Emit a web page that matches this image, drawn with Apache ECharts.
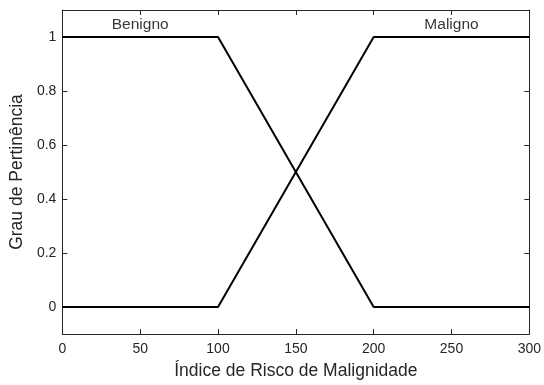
<!DOCTYPE html>
<html>
<head>
<meta charset="utf-8">
<script src="https://cdn.jsdelivr.net/npm/echarts@6/dist/echarts.min.js"></script>
<style>
html,body{margin:0;padding:0;background:#fff;}
#chart{width:544px;height:385px;}
</style>
</head>
<body>
<div id="chart"></div>
<script>
// Membership function breakpoints (risk index vs. membership degree)
const benignoX = [0, 100, 200, 300];
const benignoY = [1, 1, 0, 0];
const malignoX = [0, 100, 200, 300];
const malignoY = [0, 0, 1, 1];
const classNames = ['Benigno', 'Maligno'];
const classLabelX = [50, 250];
const classLabelY = 1.045;
const yTicks = [0, 0.2, 0.4, 0.6, 0.8, 1];

const axisColor = '#262626';
const font = 'Liberation Sans, Arial, Helvetica, sans-serif';

const chart = echarts.init(document.getElementById('chart'));

const pairs = (xs, ys) => xs.map((x, i) => [x, ys[i]]);

const lineCfg = { show: true, onZero: false, lineStyle: { color: axisColor, width: 1 } };
const tickCfg = { show: true, inside: true, length: 5, lineStyle: { color: axisColor } };
const yTickCfg = Object.assign({}, tickCfg, { customValues: yTicks });

chart.setOption({
  animation: false,
  backgroundColor: '#fff',
  grid: { left: 62, right: 14, top: 10, bottom: 48, containLabel: false },
  xAxis: [
    {
      type: 'value', min: 0, max: 300, interval: 50, position: 'bottom',
      axisLine: lineCfg, axisTick: tickCfg, splitLine: { show: false },
      name: 'Índice de Risco de Malignidade', nameLocation: 'middle', nameGap: 28,
      nameTextStyle: { color: axisColor, fontSize: 17.5, fontFamily: font },
      axisLabel: { color: axisColor, fontSize: 14, fontFamily: font, margin: 8 }
    },
    {
      type: 'value', min: 0, max: 300, interval: 50, position: 'top',
      axisLine: lineCfg, axisTick: tickCfg, splitLine: { show: false },
      axisLabel: { show: false }
    }
  ],
  yAxis: [
    {
      type: 'value', min: -0.1, max: 1.1, position: 'left',
      axisLine: lineCfg, axisTick: yTickCfg, splitLine: { show: false },
      name: 'Grau de Pertinência', nameLocation: 'middle', nameGap: 30,
      nameTextStyle: { color: axisColor, fontSize: 17.5, fontFamily: font },
      axisLabel: {
        color: axisColor, fontSize: 14, fontFamily: font, margin: 6,
        customValues: yTicks,
        formatter: v => String(Math.round(v * 10) / 10)
      }
    },
    {
      type: 'value', min: -0.1, max: 1.1, position: 'right',
      axisLine: lineCfg, axisTick: yTickCfg, splitLine: { show: false },
      axisLabel: { show: false }
    }
  ],
  series: [
    {
      type: 'line', name: classNames[0], data: pairs(benignoX, benignoY),
      symbol: 'none', lineStyle: { color: '#000', width: 2 }, z: 3
    },
    {
      type: 'line', name: classNames[1], data: pairs(malignoX, malignoY),
      symbol: 'none', lineStyle: { color: '#000', width: 2 }, z: 3
    },
    {
      type: 'scatter', symbolSize: 0, silent: true,
      data: classLabelX.map((x, i) => ({ value: [x, classLabelY], name: classNames[i] })),
      label: {
        show: true, position: 'inside', formatter: p => p.name,
        color: '#000', fontSize: 15.5, fontFamily: font
      }
    }
  ]
});
</script>
</body>
</html>
